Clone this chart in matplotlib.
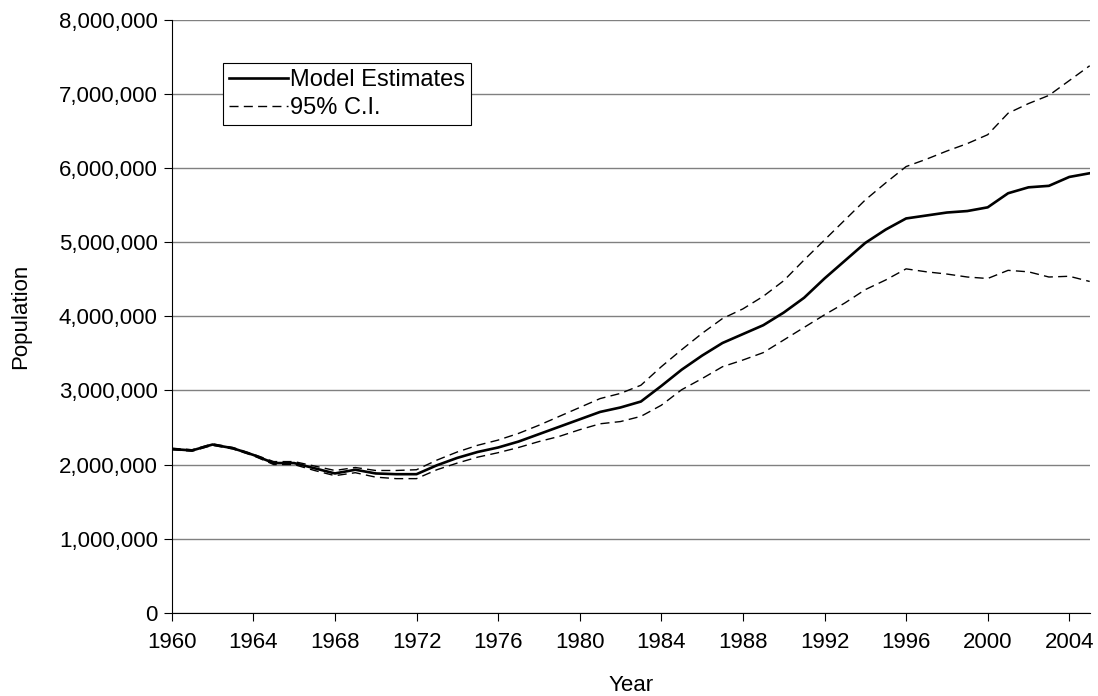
import numpy as np
import matplotlib
matplotlib.use("Agg")
import matplotlib.pyplot as plt
from matplotlib.ticker import FuncFormatter

years = list(range(1960, 2006))
model = [2.21, 2.19, 2.27, 2.22, 2.13, 2.02, 2.02, 1.95, 1.88, 1.93,
         1.88, 1.87, 1.87, 1.99, 2.09, 2.17, 2.23, 2.31, 2.41, 2.51,
         2.61, 2.71, 2.77, 2.85, 3.06, 3.28, 3.47, 3.64, 3.76, 3.88,
         4.05, 4.25, 4.51, 4.75, 4.99, 5.17, 5.32, 5.36, 5.40, 5.42,
         5.47, 5.66, 5.74, 5.76, 5.88, 5.93]
upper = [2.22, 2.20, 2.28, 2.23, 2.14, 2.04, 2.04, 1.98, 1.92, 1.96,
         1.92, 1.92, 1.93, 2.06, 2.17, 2.26, 2.33, 2.42, 2.53, 2.65,
         2.77, 2.89, 2.96, 3.07, 3.32, 3.55, 3.77, 3.97, 4.10, 4.27,
         4.48, 4.76, 5.03, 5.30, 5.57, 5.80, 6.02, 6.12, 6.23, 6.33,
         6.45, 6.74, 6.87, 6.98, 7.18, 7.38]
lower = [2.20, 2.18, 2.26, 2.21, 2.12, 2.00, 2.00, 1.92, 1.85, 1.89,
         1.83, 1.81, 1.81, 1.93, 2.02, 2.10, 2.16, 2.23, 2.31, 2.38,
         2.47, 2.55, 2.58, 2.65, 2.80, 3.01, 3.16, 3.32, 3.41, 3.51,
         3.68, 3.85, 4.02, 4.18, 4.36, 4.49, 4.64, 4.60, 4.57, 4.53,
         4.51, 4.62, 4.60, 4.53, 4.54, 4.47]

model = np.array(model) * 1e6
upper = np.array(upper) * 1e6
lower = np.array(lower) * 1e6

plt.rcParams['font.family'] = ['Liberation Sans', 'DejaVu Sans']

fig = plt.figure(figsize=(10.98, 6.96), dpi=100)
ax = fig.add_axes([171.7 / 1098, (696 - 612.8) / 696, 918 / 1098, 593 / 696])

ax.plot(years, model, color="black", linewidth=1.9, label="Model Estimates", zorder=3)
ax.plot(years, upper, color="black", linewidth=1.0, dashes=(6.5, 3.8), label="95% C.I.", zorder=3)
ax.plot(years, lower, color="black", linewidth=1.0, dashes=(6.5, 3.8), zorder=3)

ax.set_xlim(1960, 2005)
ax.set_ylim(0, 8e6)
ax.set_xticks(range(1960, 2005, 4))
ax.set_yticks(np.arange(0, 8e6 + 1, 1e6))
ax.yaxis.set_major_formatter(FuncFormatter(lambda v, p: f"{int(v):,}"))
ax.grid(axis="y", color="#808080", linewidth=1.0)
ax.set_axisbelow(True)
for s in ["top", "right"]:
    ax.spines[s].set_visible(False)
ax.spines["left"].set_color("black")
ax.spines["bottom"].set_color("black")
ax.tick_params(axis="both", labelsize=16, color="black", length=6, width=0.8, direction="out")
ax.tick_params(axis="y", pad=4)
ax.tick_params(axis="x", pad=8)

ax.set_xlabel("Year", fontsize=16, labelpad=16)
ax.set_ylabel("Population", fontsize=16, labelpad=20)

leg = ax.legend(loc="upper left", bbox_to_anchor=(0.056, 0.927), fontsize=17,
                frameon=True, fancybox=False, edgecolor="black", framealpha=1,
                handlelength=2.5, handletextpad=0.1, borderpad=0.25, labelspacing=0.25,
                borderaxespad=0)
leg.get_frame().set_linewidth(0.8)

fig.savefig("out.png", dpi=100)
